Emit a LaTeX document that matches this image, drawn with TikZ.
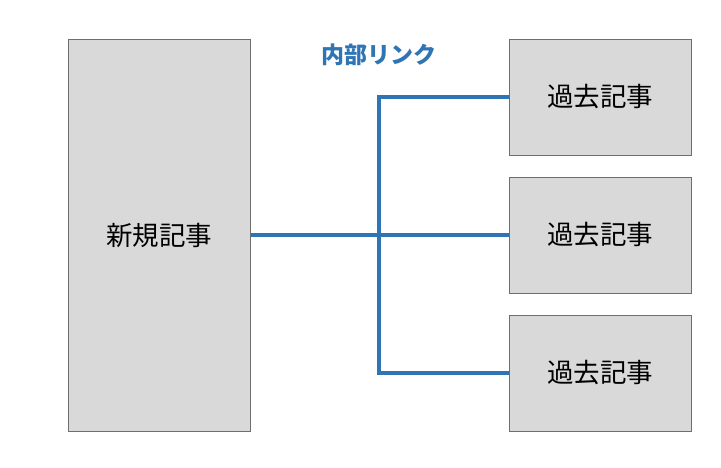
\documentclass[tikz,border=0pt]{standalone}
\usepackage{fontspec}
\setmainfont{Noto Sans CJK JP}
\definecolor{boxfill}{HTML}{D9D9D9}
\definecolor{boxline}{HTML}{6E6E6E}
\definecolor{linkblue}{HTML}{2F75B5}
\begin{document}
\begin{tikzpicture}[x=1pt,y=-1pt,
  article/.style={draw=boxline, line width=1pt, fill=boxfill, inner sep=0pt, font=\fontsize{26.5}{30}\selectfont},
  link/.style={draw=linkblue, line width=4pt}]
\useasboundingbox (0,0) rectangle (721,467);
\node[article, minimum width=182pt, minimum height=392pt] (L) at (159,235) {新規記事};
\node[article, minimum width=182pt, minimum height=116pt] (R1) at (600,97) {過去記事};
\node[article, minimum width=182pt, minimum height=116pt] (R2) at (600,235) {過去記事};
\node[article, minimum width=182pt, minimum height=116pt] (R3) at (600,373) {過去記事};
\coordinate (j) at (379,235);
\draw[link] (L.east) -- (R2.west);
\draw[link] (R1.west) -| (j) |- (R3.west);
\node[text=linkblue, font=\fontsize{23}{26}\selectfont\bfseries] (lbl) at (379,55) {内部リンク};
\end{tikzpicture}
\end{document}
